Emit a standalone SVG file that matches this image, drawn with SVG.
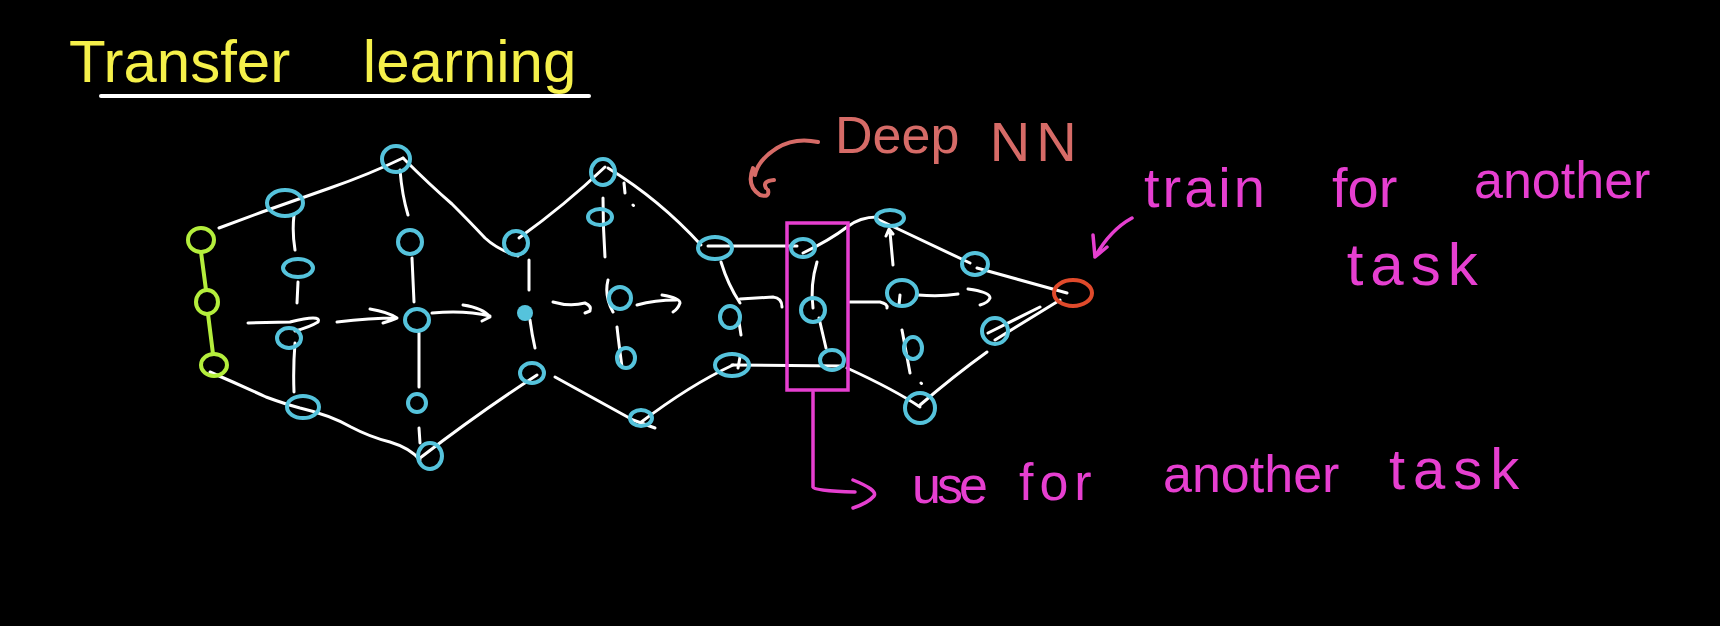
<svg xmlns="http://www.w3.org/2000/svg" width="1720" height="626" viewBox="0 0 1720 626">
<style>
.bg{fill:#000}
.n{fill:none;stroke:#55c3dc;stroke-width:4}
.nf{fill:#55c3dc}
.in{fill:none;stroke:#b4ee3c;stroke-width:4}
.out{fill:none;stroke:#e04a2b;stroke-width:4}
.e{fill:none;stroke:#fff;stroke-width:3;stroke-linecap:round;stroke-linejoin:round}
.m{fill:none;stroke:#e63fd0;stroke-width:3.5;stroke-linecap:round;stroke-linejoin:round}
.s{fill:none;stroke:#d66b67;stroke-width:4;stroke-linecap:round;stroke-linejoin:round}
.t{font-family:"Liberation Sans",Arial,sans-serif}
</style>
<rect class="bg" x="0" y="0" width="1720" height="626"/>

<g id="title">
<text class="t" x="69" y="82" font-size="60" fill="#f5f04a" word-spacing="56">Transfer learning</text>
<line x1="101" y1="96" x2="589" y2="96" stroke="#fff" stroke-width="4" stroke-linecap="round"/>
</g>

<g id="connectors">
<path d="M201,252 L206,290 M208,314 L213,354" fill="none" stroke="#b4ee3c" stroke-width="4" stroke-linecap="round"/>
<path class="e" d="M219,228 L262,212 Q290,202 330,188 Q370,174 403,158"/>
<path class="e" d="M403,158 Q430,185 452,204 Q470,222 485,238 Q498,250 518,256"/>
<path class="e" d="M519,238 Q565,205 605,167"/>
<path class="e" d="M608,168 Q660,200 701,245"/>
<path class="e" d="M708,246 L797,246"/>
<path class="e" d="M803,253 Q830,240 847,227 Q860,217 877,217"/>
<path class="e" d="M877,219 L970,263"/>
<path class="e" d="M977,268 L1067,293"/>
<path class="e" d="M210,372 Q240,385 266,397 Q285,404 300,408 Q330,415 351,427 Q370,437 390,442 Q410,448 420,460"/>
<path class="e" d="M420,458 Q480,412 537,375"/>
<path class="e" d="M555,377 L633,420 L655,428"/>
<path class="e" d="M640,423 Q690,385 733,365"/>
<path class="e" d="M732,365 L843,366"/>
<path class="e" d="M847,368 Q895,390 920,407"/>
<path class="e" d="M920,405 Q955,375 987,352"/>
<path class="e" d="M995,340 L1060,300 M988,333 L1040,307"/>
<path class="e" d="M294,215 Q292,232 295,250 M298,282 L297,303 M295,343 Q293,368 294,392"/>
<path class="e" d="M400,170 Q402,195 408,215 M412,258 L414,302 M419,333 L419,387 M419,428 L420,443"/>
<path class="e" d="M529,260 L529,290 M530,320 Q532,335 535,348"/>
<path class="e" d="M603,198 Q603,228 605,257 M624,183 L625,193 M633,205 L633.5,205.5 M608,280 Q604,296 613,312 M617,327 Q619,345 622,367"/>
<path class="e" d="M721,262 Q728,285 740,303 M739,322 L741,335 M740,357 L738,368"/>
<path class="e" d="M817,262 Q810,285 813,308 M819,318 L826,348"/>
<path class="e" d="M890,232 L893,265 M886,236 L889,229 L893,234 M900,295 L899,305 M902,330 Q906,352 910,373 M921,383 L921.5,383.5"/>
<path class="e" d="M248,323 L290,322 Q322,314 318,322 Q310,327 295,331"/>
<path class="e" d="M337,322 Q370,318 397,318 M370,309 Q388,312 397,318 Q390,321 383,323"/>
<path class="e" d="M432,313 Q465,310 490,316 M463,305 Q483,308 490,317 L482,321"/>
<path class="e" d="M553,302 Q570,307 585,303 Q592,306 590,311 L585,313"/>
<path class="e" d="M637,305 Q655,300 676,300 M662,295 Q680,298 680,303 Q678,309 673,312"/>
<path class="e" d="M740,299 L773,297 Q782,298 782,307"/>
<path class="e" d="M850,302 L880,302 Q888,304 887,308"/>
<path class="e" d="M918,295 Q940,297 958,294 M968,289 Q990,292 990,298 Q988,303 980,305"/>
<path class="m" d="M813,392 L813,487 Q814,491 855,492 M853,480 Q878,490 874,496 Q868,503 853,508"/>
<path class="m" d="M1132,218 Q1110,230 1095,257 M1093,235 L1095,257 L1107,247"/>
<path class="s" d="M818,142 Q795,137 777,148 Q758,160 755,175 M753,168 Q746,186 760,195 Q770,198 768,190 M774,180 Q762,181 766,188"/>
</g>

<g id="in1"><ellipse class="in" cx="201" cy="240" rx="13" ry="12"/></g>
<g id="in2"><ellipse class="in" cx="207" cy="302" rx="11" ry="12"/></g>
<g id="in3"><ellipse class="in" cx="214" cy="365" rx="13" ry="11"/></g>

<g id="h1a"><ellipse class="n" cx="285" cy="203" rx="18" ry="13"/></g>
<g id="h1b"><ellipse class="n" cx="298" cy="268" rx="15" ry="9"/></g>
<g id="h1c"><ellipse class="n" cx="289" cy="338" rx="12" ry="10"/></g>
<g id="h1d"><ellipse class="n" cx="303" cy="407" rx="16" ry="11"/></g>

<g id="h2a"><ellipse class="n" cx="396" cy="159" rx="14" ry="13"/></g>
<g id="h2b"><ellipse class="n" cx="410" cy="242" rx="12" ry="12"/></g>
<g id="h2c"><ellipse class="n" cx="417" cy="320" rx="12" ry="11"/></g>
<g id="h2d"><ellipse class="n" cx="417" cy="403" rx="9" ry="9"/></g>
<g id="h2e"><ellipse class="n" cx="430" cy="456" rx="12" ry="13"/></g>

<g id="h3a"><ellipse class="n" cx="516" cy="243" rx="12" ry="12"/></g>
<g id="h3b"><circle class="nf" cx="525" cy="313" r="8"/></g>
<g id="h3c"><ellipse class="n" cx="532" cy="373" rx="12" ry="10"/></g>

<g id="h4a"><ellipse class="n" cx="603" cy="172" rx="12" ry="13"/></g>
<g id="h4b"><ellipse class="n" cx="600" cy="217" rx="12" ry="8"/></g>
<g id="h4c"><ellipse class="n" cx="620" cy="298" rx="11" ry="11"/></g>
<g id="h4d"><ellipse class="n" cx="626" cy="358" rx="9" ry="10"/></g>
<g id="h4e"><ellipse class="n" cx="641" cy="418" rx="11" ry="8"/></g>

<g id="h5a"><ellipse class="n" cx="715" cy="248" rx="17" ry="11"/></g>
<g id="h5b"><ellipse class="n" cx="730" cy="317" rx="10" ry="11"/></g>
<g id="h5c"><ellipse class="n" cx="732" cy="365" rx="17" ry="11"/></g>

<g id="h6a"><ellipse class="n" cx="803" cy="248" rx="12" ry="9"/></g>
<g id="h6b"><ellipse class="n" cx="813" cy="310" rx="12" ry="12"/></g>
<g id="h6c"><ellipse class="n" cx="832" cy="360" rx="12" ry="10"/></g>

<g id="h7a"><ellipse class="n" cx="890" cy="218" rx="14" ry="8"/></g>
<g id="h7b"><ellipse class="n" cx="902" cy="293" rx="15" ry="13"/></g>
<g id="h7c"><ellipse class="n" cx="913" cy="348" rx="9" ry="11"/></g>
<g id="h7d"><ellipse class="n" cx="920" cy="408" rx="15" ry="15"/></g>

<g id="h8a"><ellipse class="n" cx="975" cy="264" rx="13" ry="11"/></g>
<g id="h8b"><ellipse class="n" cx="995" cy="331" rx="13" ry="13"/></g>

<g id="out"><ellipse class="out" cx="1073" cy="293" rx="19" ry="13"/></g>

<g id="reused-layer"><rect x="787" y="223" width="61" height="167" fill="none" stroke="#e63fd0" stroke-width="3.5"/></g>

<g id="label-deep-nn">
<text class="t" x="835" y="153" font-size="52" fill="#d66b67" word-spacing="16">Deep <tspan dy="8" font-size="56" letter-spacing="6">NN</tspan></text>
</g>

<g id="label-train">
<text class="t" fill="#e63fd0"><tspan x="1144" y="207" font-size="56" letter-spacing="3">train </tspan><tspan x="1332" y="207" font-size="56">for </tspan><tspan x="1474" y="198" font-size="52">another</tspan><tspan x="1323" y="285" font-size="60" letter-spacing="7"> task</tspan></text>
</g>

<g id="label-use">
<text class="t" fill="#e63fd0" font-size="52"><tspan x="912" y="503" letter-spacing="-4">use </tspan><tspan x="1019" y="500" letter-spacing="6">for </tspan><tspan x="1163" y="492">another </tspan><tspan x="1389" y="489" font-size="58" letter-spacing="8">task</tspan></text>
</g>
</svg>
